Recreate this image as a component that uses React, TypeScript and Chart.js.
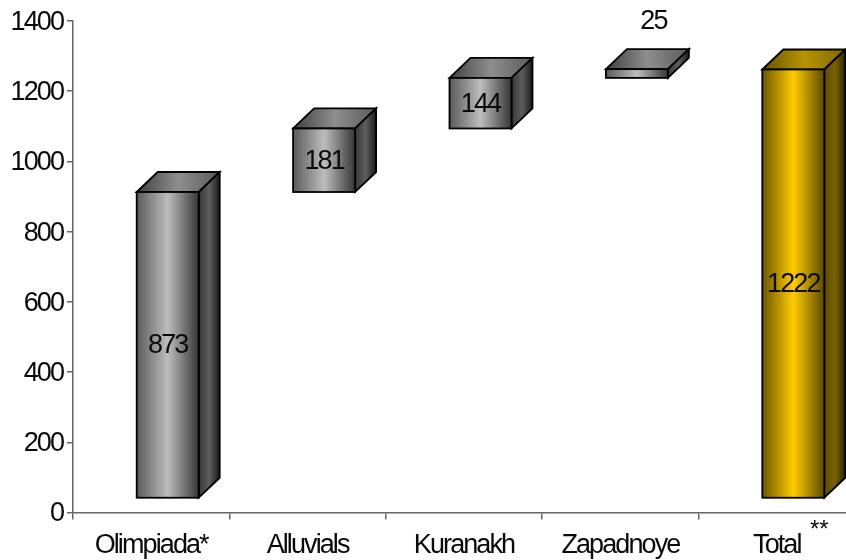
import React, { useEffect, useRef } from "react";
import { Chart, registerables } from "chart.js";

Chart.register(...registerables);

const categories = ["Olimpiada*", "Alluvials", "Kuranakh", "Zapadnoye", "Total"];
const bases = [0, 873, 1054, 1198, 0];
const values = [873, 181, 144, 25, 1222];
const yMax = 1400;
const yStep = 200;
const TOTAL_INDEX = 4;

const FONT = '"Liberation Sans", Arial, sans-serif';
const SPACING = "-1.9px";
const TEXT = "#0a0a0a";
const SHIFT_X = 16.5;
const SHIFT_Y = -14;
const DEPTH_X = 21;
const DEPTH_Y = 20;
const BAR_W = 62;
const OUTLINE = 1.8;

const GREY = {
  front: ["#5a5a5a", "#bdbdbd", "#363636"],
  top: ["#404040", "#8e8e8e", "#5a5a5a"],
  side: ["#363636", "#5e5e5e", "#1a1a1a"],
};
const GOLD = {
  front: ["#6b5600", "#ffcc00", "#5c4a00"],
  top: ["#665200", "#b89400", "#806700"],
  side: ["#5c4a00", "#7a6200", "#2e2500"],
};

function grad(ctx: CanvasRenderingContext2D, x0: number, x1: number, c: string[]) {
  const g = ctx.createLinearGradient(x0, 0, x1, 0);
  g.addColorStop(0, c[0]);
  g.addColorStop(0.5, c[1]);
  g.addColorStop(1, c[2]);
  return g;
}

const cubePlugin = {
  id: "cube",
  afterLayout(chart: any) {
    const s = chart.scales.y;
    if (s.__wrapped) return;
    s.__wrapped = true;
    const orig = s.drawLabels;
    s.drawLabels = function (area: any) {
      const ctx = chart.ctx;
      ctx.save();
      ctx.translate(0, 1.5);
      orig.call(s, area);
      ctx.restore();
    };
  },
  beforeDraw(chart: any) {
    chart.ctx.letterSpacing = SPACING;
  },
  beforeDatasetsDraw(chart: any) {
    const ctx = chart.ctx as CanvasRenderingContext2D;
    ctx.save();
    ctx.translate(SHIFT_X, SHIFT_Y);
    chart.getDatasetMeta(0).data.forEach((el: any, i: number) => {
      const p = el.getProps(["x", "y", "base", "width"], true);
      const l = p.x - p.width / 2;
      const r = p.x + p.width / 2;
      const t = p.y;
      const b = p.base;
      const c = i === TOTAL_INDEX ? GOLD : GREY;
      ctx.lineWidth = OUTLINE;
      ctx.strokeStyle = "#000";
      ctx.lineJoin = "miter";
      ctx.beginPath();
      ctx.moveTo(l, t);
      ctx.lineTo(l + DEPTH_X, t - DEPTH_Y);
      ctx.lineTo(r + DEPTH_X, t - DEPTH_Y);
      ctx.lineTo(r, t);
      ctx.closePath();
      ctx.fillStyle = grad(ctx, l, r + DEPTH_X, c.top);
      ctx.fill();
      ctx.stroke();
      ctx.beginPath();
      ctx.moveTo(r, t);
      ctx.lineTo(r + DEPTH_X, t - DEPTH_Y);
      ctx.lineTo(r + DEPTH_X, b - DEPTH_Y);
      ctx.lineTo(r, b);
      ctx.closePath();
      ctx.fillStyle = grad(ctx, r, r + DEPTH_X, c.side);
      ctx.fill();
      ctx.stroke();
    });
  },
  afterDatasetsDraw(chart: any) {
    const ctx = chart.ctx as CanvasRenderingContext2D;
    chart.getDatasetMeta(0).data.forEach((el: any, i: number) => {
      const p = el.getProps(["x", "y", "base", "width"], true);
      ctx.lineWidth = OUTLINE;
      ctx.strokeStyle = "#000";
      ctx.strokeRect(p.x - p.width / 2, p.y, p.width, p.base - p.y);
      const small = values[i] < 50;
      ctx.font = `27px ${FONT}`;
      ctx.fillStyle = TEXT;
      ctx.textAlign = "center";
      ctx.textBaseline = "middle";
      const x = p.x + (small ? 16.5 : 0);
      const y = small ? p.y - 47.5 : (p.y + p.base) / 2 + 1;
      ctx.fillText(String(values[i]), x, y);
    });
    ctx.restore();
    ctx.save();
    ctx.letterSpacing = "0px";
    ctx.font = `24px ${FONT}`;
    ctx.fillStyle = TEXT;
    ctx.textAlign = "left";
    ctx.textBaseline = "alphabetic";
    ctx.fillText("**", 810, 537);
    ctx.restore();
  },
};

export default function App() {
  const ref = useRef<HTMLCanvasElement>(null);
  useEffect(() => {
    document.body.style.margin = "0";
    const chart = new Chart(ref.current!, {
      type: "bar",
      data: {
        labels: categories,
        datasets: [
          {
            data: bases.map((b, i) => [b, b + values[i]]) as any,
            categoryPercentage: 1,
            barPercentage: BAR_W / 156.4,
            borderWidth: 0,
            backgroundColor: (c: any) => {
              const s = c.chart.scales.x;
              if (!s || c.dataIndex === undefined) return "#999";
              const x = s.getPixelForValue(c.dataIndex);
              if (!Number.isFinite(x)) return "#999";
              return grad(
                c.chart.ctx,
                x - BAR_W / 2,
                x + BAR_W / 2,
                c.dataIndex === TOTAL_INDEX ? GOLD.front : GREY.front,
              );
            },
          },
        ],
      },
      options: {
        animation: false,
        responsive: false,
        maintainAspectRatio: false,
        layout: { padding: { top: 21, right: 5, left: 0, bottom: 0 } },
        plugins: { legend: { display: false }, tooltip: { enabled: false } },
        scales: {
          x: {
            afterFit: (s: any) => {
              s.height = 47.5;
            },
            border: { color: "#666", width: 1.5 },
            grid: { drawOnChartArea: false, color: "#666", lineWidth: 1.5, tickLength: 7 },
            ticks: {
              color: TEXT,
              padding: 9.5,
              maxRotation: 0,
              autoSkip: false,
              font: { family: FONT, size: 27 },
            },
          },
          y: {
            min: 0,
            max: yMax,
            afterFit: (s: any) => {
              s.width = 73;
            },
            border: { color: "#666", width: 1.5 },
            grid: { drawOnChartArea: false, color: "#666", lineWidth: 1.5, tickLength: 6 },
            ticks: {
              stepSize: yStep,
              color: TEXT,
              padding: 4,
              callback: (v: any) => String(v),
              font: { family: FONT, size: 27 },
            },
          },
        },
      },
      plugins: [cubePlugin],
    });
    return () => chart.destroy();
  }, []);
  return (
    <div style={{ position: "fixed", left: 0, top: 0, width: 846, height: 560, overflow: "hidden", background: "#fff" }}>
      <canvas ref={ref} width={860} height={560} style={{ display: "block" }} />
    </div>
  );
}
